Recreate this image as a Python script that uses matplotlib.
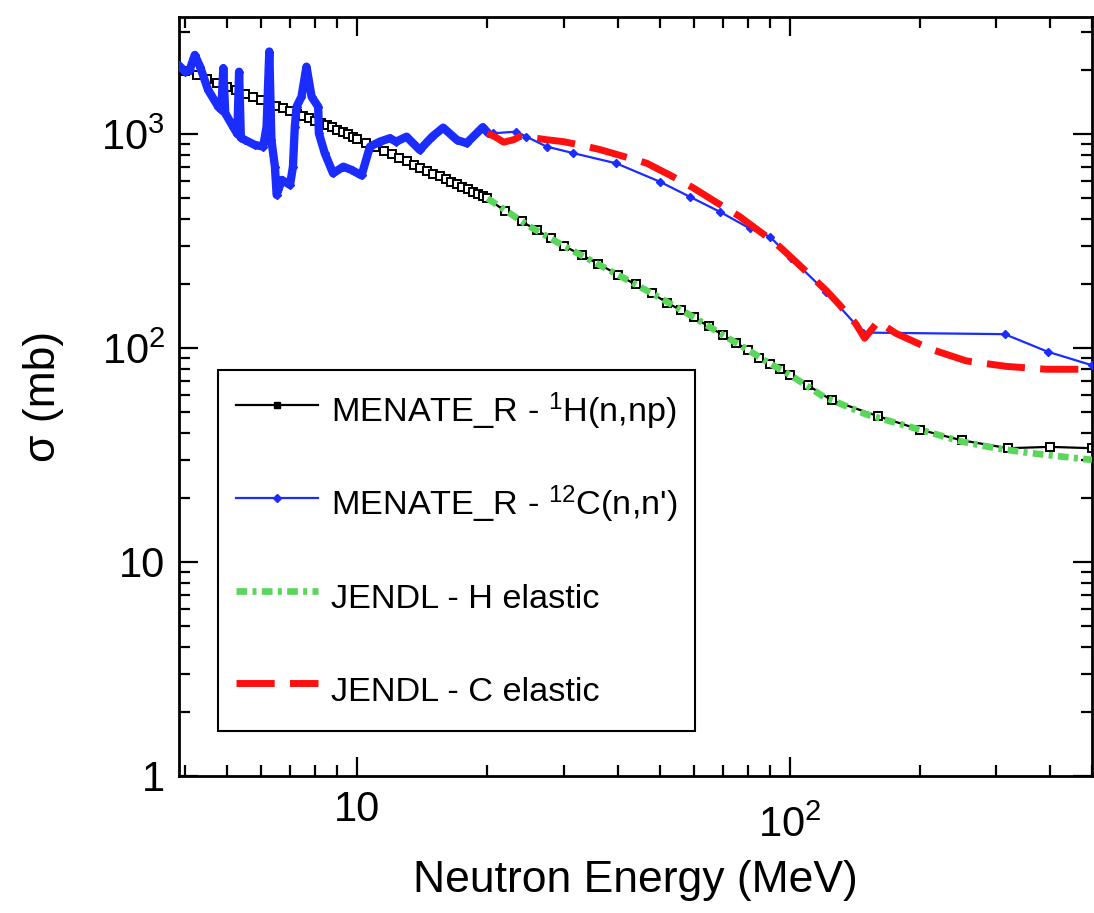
import numpy as np
import matplotlib
matplotlib.use("Agg")
import matplotlib.pyplot as plt
from matplotlib.lines import Line2D
from matplotlib.transforms import ScaledTranslation

plt.rcParams['font.family'] = ['Liberation Sans', 'DejaVu Sans']
plt.rcParams['mathtext.fontset'] = 'custom'
plt.rcParams['mathtext.rm'] = 'Liberation Sans'
plt.rcParams['mathtext.it'] = 'Liberation Sans:italic'
plt.rcParams['mathtext.bf'] = 'Liberation Sans:bold'

# MENATE_R - 1H(n,np)
h_menate_E = [4.0, 4.25, 4.5, 4.75, 5.0, 5.25, 5.5, 5.75, 6.0, 6.25, 6.5, 6.75,
              7.0, 7.25, 7.5, 7.75, 8.0, 8.25, 8.5, 8.75, 9.0, 9.25, 9.5, 9.75,
              10.0, 10.5, 11.0, 11.5, 12.0, 12.5, 13.0, 13.5, 14.0, 14.5, 15.0,
              15.5, 16.0, 16.5, 17.0, 17.5, 18.0, 18.5, 19.0, 19.5, 20.0,
              22, 24, 26, 28, 30, 33, 36, 40, 44, 48, 52, 56, 60, 65, 70, 75,
              80, 85, 90, 95, 100, 110, 125, 160, 200, 250, 320, 400, 500]
h_menate_xs = [1970, 1880, 1799, 1725, 1658, 1597, 1541, 1489, 1441, 1396, 1355, 1316,
               1280, 1245, 1213, 1183, 1154, 1127, 1102, 1075, 1047, 1021, 996, 972,
               950, 908, 869, 834, 802, 772, 745, 719, 695, 673, 652,
               633, 615, 597, 581, 566, 551, 537, 524, 512, 500,
               435, 390, 355, 325, 300, 272, 248, 220, 198, 180, 163, 150, 139, 126, 115, 106,
               98, 90, 84.5, 79.5, 75, 67, 57, 48, 41.5, 37, 34, 34.5, 34]

# MENATE_R - 12C(n,n')
c_menate_E = [3.86, 4.0, 4.1, 4.21, 4.33, 4.52, 4.77, 4.85, 4.9, 4.95, 5.16, 5.28,
              5.33, 5.38, 5.5, 5.8, 6.06, 6.17, 6.26, 6.33, 6.45, 6.51, 6.69, 6.99,
              7.1, 7.17, 7.24, 7.43, 7.63, 7.84, 8.12, 8.15, 8.41, 8.79, 9.28, 9.7,
              10.23, 10.7, 11.27, 11.9, 12.3, 13.0, 13.95, 14.9, 15.8, 17.0, 17.9,
              19.5, 20.1,
              20.6, 23.3, 24.6, 27.4, 31.6, 39.7, 50.1, 58.7, 68.9, 80.8, 90, 100.9,
              121.6, 147.7, 314, 395, 500]
c_menate_xs = [2100, 1953, 2000, 2340, 2062, 1605, 1342, 1300, 2029, 1250, 1082, 1000,
               1953, 960, 937, 888, 873, 1082, 2427, 937, 703, 519, 610, 578,
               703, 1082, 1342, 1492, 2062, 1492, 1342, 1007, 813, 655, 703, 679,
               640, 873, 920, 955, 920, 971, 842, 971, 1070, 937, 905,
               1075, 1007,
               1007, 1025, 971, 873, 813, 729, 598, 509, 433, 362, 331, 262,
               182, 118, 116, 96, 83]

# JENDL - H elastic
h_jendl_E = [20, 25, 30, 40, 50, 60, 70, 80, 90, 100, 120, 150, 200, 250, 300,
             350, 400, 450, 500]
h_jendl_xs = [500, 370, 300, 220, 172, 139, 115, 98, 84.5, 75, 59, 49, 41.5, 36.5, 34,
              32.5, 31.5, 30.7, 30]

# JENDL - C elastic
c_jendl_E = [20, 21, 21.8, 23, 23.8, 25, 27.4, 30, 33, 36.4, 40, 46.7, 53, 59.8, 67,
             76.6, 88.5, 94.8, 105.7, 121.6, 130, 142, 149, 160, 176, 200, 214, 256,
             317, 392, 450, 500]
c_jendl_xs = [1010, 960, 915, 940, 975, 965, 940, 920, 885, 845, 800, 730, 640, 560, 485,
              411, 331, 297, 242, 185, 160, 130, 111, 133, 117, 104, 98, 87,
              82, 79.5, 79.5, 79.5]

legend_labels = ["MENATE_R - $^{1}$H(n,np)", "MENATE_R - $^{12}$C(n,n')",
                 "JENDL - H elastic", "JENDL - C elastic"]

blue = '#1a2cff'
green = '#5ad65a'
red = '#ff1010'

fig = plt.figure(figsize=(10.94, 9.13), dpi=100)
ax = fig.add_axes([0.1636, 0.1501, 0.8346, 0.8313])

ax.plot(h_menate_E, h_menate_xs, color='black', lw=1.6, marker='s', ms=5.6,
        mfc='white', mec='black', mew=1.4, zorder=2)
ax.plot(h_jendl_E, h_jendl_xs, color=green, lw=4.8,
        dashes=(1.6, 0.8, 0.6, 0.8), zorder=3)

cE = np.array(c_menate_E)
cS = np.array(c_menate_xs)
low = cE <= 20.1
# dense low-energy resonance region looks like a thick band
ax.plot(cE[low], cS[low], color=blue, lw=6.0, solid_joinstyle='round',
        solid_capstyle='round', zorder=4)
ax.plot(cE, cS, color=blue, lw=1.6, marker='D', ms=4.2, mec=blue, zorder=4)
ax.plot(c_jendl_E, c_jendl_xs, color=red, lw=5.0, dashes=(5.5, 2.2), zorder=5)

ax.set_xscale('log')
ax.set_yscale('log')
ax.set_xlim(3.87, 500)
ax.set_ylim(1, 3520)

ax.set_xticks([10, 100])
ax.set_xticklabels(['10', '$10^2$'])
ax.set_yticks([1, 10, 100, 1000])
ax.set_yticklabels(['1', '10', '$10^2$', '$10^3$'])

ax.tick_params(which='both', direction='in', top=True, right=True, width=1.6)
ax.tick_params(which='major', length=14, labelsize=30, pad=10)
ax.tick_params(which='minor', length=8)
for s in ax.spines.values():
    s.set_linewidth(2.0)

ax.set_xlabel('Neutron Energy (MeV)', fontsize=32)
ax.xaxis.set_label_coords(0.5, -0.111)
ax.set_ylabel('σ (mb)', fontsize=32, labelpad=27)

handles = [
    Line2D([], [], color='black', lw=1.6, marker='s', ms=5.0, mfc='black', mec='black'),
    Line2D([], [], color=blue, lw=1.6, marker='D', ms=4.2, mec=blue),
    Line2D([], [], color=green, lw=4.8, dashes=(1.6, 0.8, 0.6, 0.8)),
    Line2D([], [], color=red, lw=5.0, dashes=(5.5, 2.2)),
]
leg = ax.legend(handles, legend_labels, loc='upper left',
                bbox_to_anchor=(0.0427, 0.535), borderaxespad=0,
                fontsize=24.7, handlelength=2.4, handletextpad=0.38,
                handleheight=1.75, labelspacing=1.32, borderpad=0.52,
                fancybox=False, framealpha=1, edgecolor='black')
leg.get_frame().set_linewidth(1.5)

# the 10^2 label on the energy axis sits a little lower than the plain "10"
fig.canvas.draw()
for tick in ax.xaxis.get_major_ticks():
    if tick.get_loc() > 50:
        lab = tick.label1
        lab.set_transform(lab.get_transform() +
                          ScaledTranslation(0, -11 / 72, fig.dpi_scale_trans))

fig.savefig('out.png', dpi=100)
